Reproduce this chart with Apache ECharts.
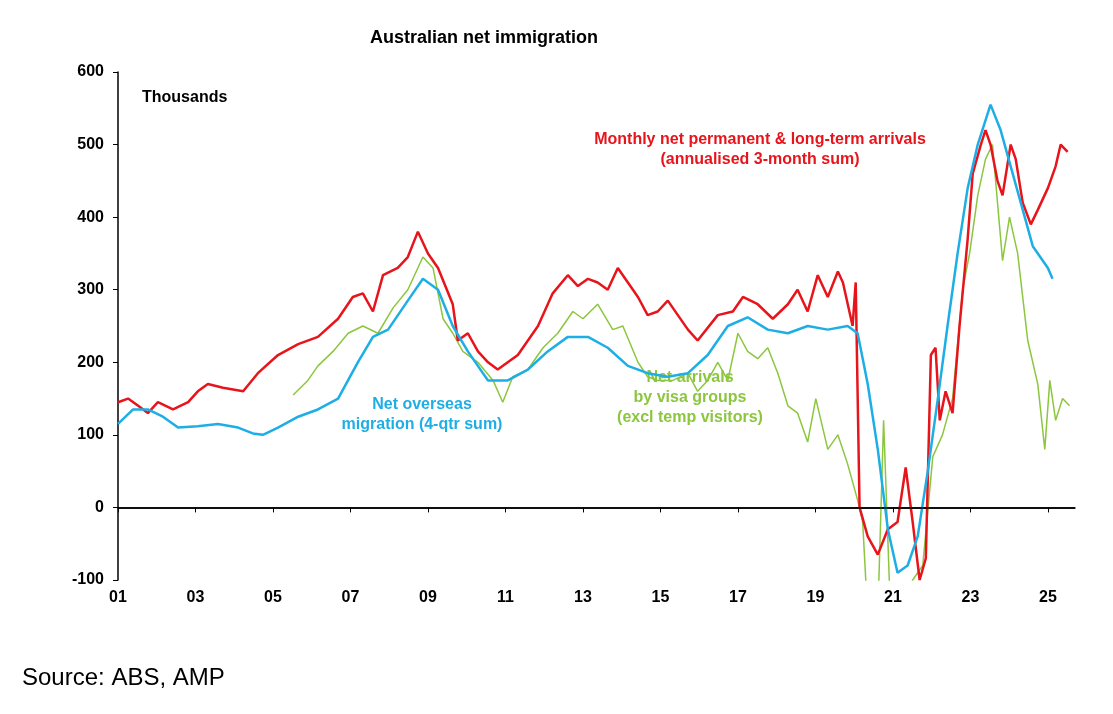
<!DOCTYPE html>
<html><head><meta charset="utf-8">
<script src="https://cdn.jsdelivr.net/npm/echarts@6/dist/echarts.min.js"></script>
<style>html,body{margin:0;background:#fff}#c{width:1113px;height:714px}</style></head>
<body><div id="c"></div>
<script>
const redYears=[2001.00,2001.26,2001.52,2001.77,2002.03,2002.42,2002.81,2003.06,2003.32,2003.71,2004.23,2004.61,2005.13,2005.65,2006.16,2006.68,2007.06,2007.32,2007.58,2007.84,2008.22,2008.48,2008.74,2009.00,2009.26,2009.64,2009.77,2010.03,2010.29,2010.55,2010.80,2011.32,2011.84,2012.22,2012.61,2012.87,2013.13,2013.38,2013.64,2013.90,2014.16,2014.42,2014.67,2014.93,2015.19,2015.45,2015.71,2015.96,2016.48,2016.87,2017.13,2017.51,2017.90,2018.29,2018.54,2018.80,2019.06,2019.32,2019.58,2019.71,2019.96,2020.04,2020.14,2020.35,2020.61,2020.87,2021.12,2021.33,2021.51,2021.69,2021.85,2021.98,2022.10,2022.21,2022.36,2022.54,2022.72,2022.93,2023.06,2023.27,2023.39,2023.52,2023.70,2023.83,2024.04,2024.17,2024.35,2024.56,2024.74,2025.00,2025.20,2025.33,2025.51];
const redValues=[145,150,140,130,145,135,145,160,170,165,160,185,210,225,235,260,290,295,270,320,330,345,380,350,330,280,230,240,215,200,190,210,250,295,320,305,315,310,300,330,310,290,265,270,285,265,245,230,265,270,290,280,260,280,300,270,320,290,325,310,250,310,0,-40,-65,-30,-20,55,-20,-100,-70,210,220,120,160,130,250,370,460,500,520,500,450,430,500,480,420,390,410,440,470,500,490];
const blueYears=[2001.00,2001.39,2001.77,2002.16,2002.55,2003.06,2003.58,2004.10,2004.48,2004.74,2005.13,2005.65,2006.16,2006.68,2007.19,2007.58,2007.97,2008.48,2008.87,2009.26,2009.64,2010.03,2010.55,2011.06,2011.58,2012.09,2012.61,2013.13,2013.64,2014.16,2014.67,2015.19,2015.71,2016.22,2016.74,2017.25,2017.77,2018.29,2018.80,2019.32,2019.83,2020.09,2020.35,2020.61,2020.87,2021.12,2021.38,2021.64,2021.90,2022.16,2022.41,2022.67,2022.93,2023.19,2023.52,2023.78,2024.04,2024.30,2024.61,2025.00,2025.12];
const blueValues=[115,135,135,125,110,112,115,110,102,100,110,125,135,150,200,235,245,285,315,300,250,215,175,175,190,215,235,235,220,195,185,180,185,210,250,262,245,240,250,245,250,240,170,80,-30,-90,-80,-40,50,150,250,350,440,500,555,520,470,420,360,330,315];
const greenYears=[2005.52,2005.90,2006.16,2006.55,2006.94,2007.32,2007.71,2008.10,2008.48,2008.87,2009.13,2009.39,2009.64,2009.90,2010.29,2010.68,2010.93,2011.19,2011.58,2011.97,2012.35,2012.74,2013.00,2013.38,2013.77,2014.03,2014.42,2014.67,2014.93,2015.32,2015.71,2015.96,2016.22,2016.48,2016.74,2017.00,2017.25,2017.51,2017.77,2018.03,2018.29,2018.54,2018.80,2019.01,2019.32,2019.58,2019.83,2020.09,2020.22,2020.35,2020.61,2020.76,2020.92,2021.25,2021.51,2021.77,2022.03,2022.28,2022.54,2022.80,2022.98,2023.19,2023.39,2023.57,2023.70,2023.83,2024.01,2024.22,2024.48,2024.74,2024.92,2025.05,2025.20,2025.38,2025.56];
const greenValues=[155,175,195,215,240,250,240,275,300,345,330,260,240,215,200,175,145,180,190,220,240,270,260,280,245,250,200,180,175,175,185,160,175,200,175,240,215,205,220,185,140,130,90,150,80,100,60,10,-20,-150,-150,120,-120,-150,-100,-80,70,100,150,300,350,430,480,500,420,340,400,350,230,170,80,175,120,150,140];
const xTickLabels=['01','03','05','07','09','11','13','15','17','19','21','23','25'];
const pair=(a,b)=>a.map((x,i)=>[x,b[i]]);
const F='Liberation Sans, Arial, sans-serif';
const ch=echarts.init(document.getElementById('c'));
const txt=(x,y,t,font,fill,align)=>({type:'text',x:x,y:y,style:{text:t,font:font,fill:fill,textAlign:align||'left',textVerticalAlign:'top',lineHeight:20}});
ch.setOption({
 backgroundColor:'#fff',animation:false,
 grid:{left:118,right:38,top:72,bottom:134},
 xAxis:{type:'value',min:2001,max:2025.7,interval:2,
  axisLine:{lineStyle:{color:'#000',width:1.5}},axisTick:{lineStyle:{color:'#000'}},splitLine:{show:false},
  axisLabel:{fontFamily:F,fontWeight:'bold',fontSize:16,color:'#000',margin:10,showMaxLabel:false,
   formatter:v=>(Math.abs((v-2001)/2-Math.round((v-2001)/2))<1e-6?xTickLabels[Math.round((v-2001)/2)]:'')}},
 yAxis:{type:'value',min:-100,max:600,interval:100,
  axisLine:{show:true,lineStyle:{color:'#000',width:1.5}},axisTick:{show:true,lineStyle:{color:'#000'}},splitLine:{show:false},
  axisLabel:{fontFamily:F,fontWeight:'bold',fontSize:16,color:'#000',margin:14}},
 series:[
  {type:'line',data:pair(greenYears,greenValues),showSymbol:false,lineStyle:{color:'#8cc63f',width:1.5},clip:true,
   markLine:{silent:true,symbol:'none',label:{show:false},lineStyle:{color:'#000',width:1.5,type:'solid'},data:[{yAxis:0}]}},
  {type:'line',data:pair(redYears,redValues),showSymbol:false,lineStyle:{color:'#e8141b',width:2.5},clip:true},
  {type:'line',data:pair(blueYears,blueValues),showSymbol:false,lineStyle:{color:'#1eaee6',width:2.5},clip:true}
 ],
 graphic:[
  txt(370,28,'Australian net immigration','bold 18px '+F,'#000'),
  txt(142,88,'Thousands','bold 16px '+F,'#000'),
  txt(760,130,'Monthly net permanent & long-term arrivals\n(annualised 3-month sum)','bold 16px '+F,'#e8141b','center'),
  txt(422,395,'Net overseas\nmigration (4-qtr sum)','bold 16px '+F,'#1eaee6','center'),
  txt(690,368,'Net arrivals\nby visa groups\n(excl temp visitors)','bold 16px '+F,'#8cc63f','center'),
  txt(22,668,'Source: ABS, AMP','24px '+F,'#000')
 ]
});
</script></body></html>
